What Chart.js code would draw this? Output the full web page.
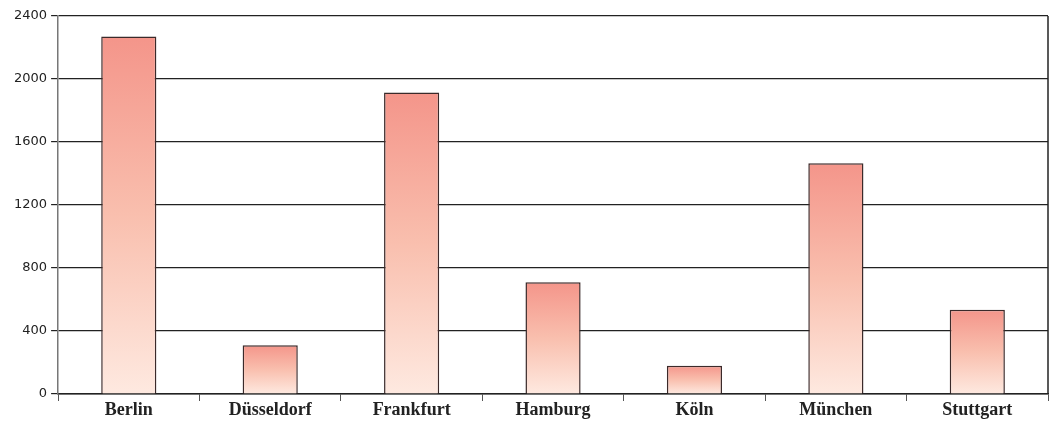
<!DOCTYPE html>
<html>
<head>
<meta charset="utf-8">
<script src="https://cdn.jsdelivr.net/npm/chart.js@4"></script>
<style>
    html, body { margin: 0; padding: 0; background: #fff; }
    #wrap { width: 1050px; height: 421px; }
</style>
</head>
<body>
<div id="wrap"><canvas id="cityChart"></canvas></div>
<script>
const cities = ["Berlin", "Düsseldorf", "Frankfurt", "Hamburg", "Köln", "München", "Stuttgart"];
const counts = [2270, 310, 1915, 710, 180, 1465, 535];
const yTicks = [0, 400, 800, 1200, 1600, 2000, 2400];

// Verlauf pro Balken: oben lachsrot, unten blass rosa
function barGradient(context) {
    const chart = context.chart;
    if (!chart.chartArea) return "#f8b8a8";
    const y = chart.scales.y;
    const top = y.getPixelForValue(context.raw);
    const bottom = y.getPixelForValue(0);
    const g = chart.ctx.createLinearGradient(0, top, 0, bottom);
    g.addColorStop(0, "#f4958a");
    g.addColorStop(0.5, "#f9bfae");
    g.addColorStop(1, "#fee9e0");
    return g;
}

// rechter Rahmen des Diagrammbereichs
const rightBorder = {
    id: "rightBorder",
    afterDatasetsDraw(chart) {
        const { ctx, chartArea } = chart;
        ctx.save();
        ctx.strokeStyle = "#222";
        ctx.lineWidth = 1.5;
        ctx.beginPath();
        ctx.moveTo(chartArea.right, chartArea.top);
        ctx.lineTo(chartArea.right, chartArea.bottom);
        ctx.stroke();
        ctx.restore();
    }
};

new Chart(document.getElementById("cityChart").getContext("2d"), {
    type: "bar",
    data: {
        labels: cities,
        datasets: [{
            data: counts,
            backgroundColor: barGradient,
            borderColor: "#3b2a2a",
            borderWidth: 1.5,
            categoryPercentage: 1,
            barPercentage: 0.39
        }]
    },
    options: {
        responsive: true,
        maintainAspectRatio: false,
        animation: false,
        layout: { padding: { top: 16, right: 2, left: 10, bottom: 2 } },
        plugins: {
            legend: { display: false },
            tooltip: { enabled: false }
        },
        scales: {
            x: {
                grid: {
                    offset: true,
                    drawOnChartArea: false,
                    drawTicks: true,
                    tickLength: 7,
                    color: "#555"
                },
                border: { color: "#222", width: 1.5 },
                ticks: {
                    color: "#222",
                    padding: 0,
                    font: { family: "Liberation Serif", size: 18, weight: "bold", lineHeight: 1 }
                }
            },
            y: {
                min: 0,
                max: 2400,
                afterBuildTicks: axis => { axis.ticks = yTicks.map(v => ({ value: v })); },
                grid: {
                    color: "#222",
                    lineWidth: 1.2,
                    tickLength: 7
                },
                border: { color: "#777", width: 1.5 },
                ticks: {
                    color: "#222",
                    padding: 4,
                    font: { family: "DejaVu Sans", size: 13 },
                    callback: value => String(value)
                }
            }
        }
    },
    plugins: [rightBorder]
});
</script>
</body>
</html>
